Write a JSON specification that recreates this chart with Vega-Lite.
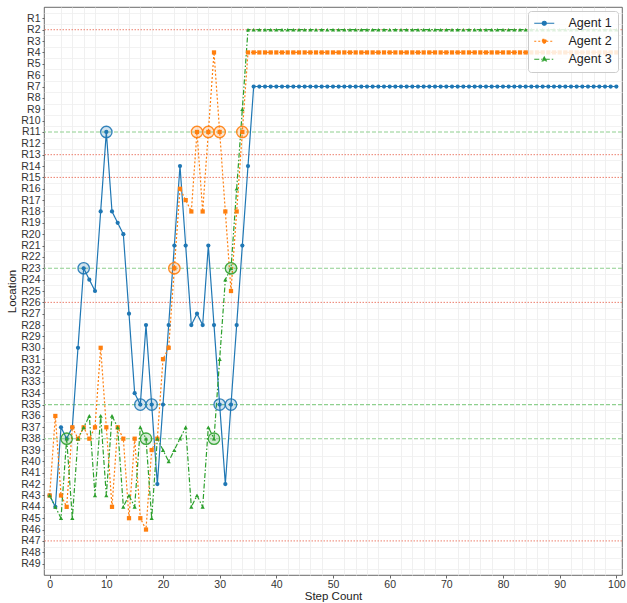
{
"$schema": "https://vega.github.io/schema/vega-lite/v6.json",
"width": 578, "height": 568,
"autosize": {"type": "none"},
"padding": {"left": 44, "top": 7, "right": 5, "bottom": 28},
"background": "white",
"config": {
  "font": "Liberation Sans",
  "view": {"stroke": "#444444", "strokeWidth": 0.8},
  "axis": {"domain": false, "labelColor": "#333333", "titleColor": "#222222", "titleFontWeight": "normal", "titleFontSize": 11.5, "labelFontSize": 10.5, "labelOverlap": false, "labelFlush": false}
},
"resolve": {"axis": {"x": "independent", "y": "independent"}},
"datasets": {
"hlines": [
{"room":2,"kind":"red"},{"room":13,"kind":"red"},{"room":15,"kind":"red"},{"room":26,"kind":"red"},{"room":47,"kind":"red"},
{"room":11,"kind":"green"},{"room":23,"kind":"green"},{"room":35,"kind":"green"},{"room":38,"kind":"green"}
],
"rings": [
{"agent":"Agent 1","step":6,"room":23},{"agent":"Agent 1","step":10,"room":11},{"agent":"Agent 1","step":16,"room":35},{"agent":"Agent 1","step":18,"room":35},{"agent":"Agent 1","step":30,"room":35},{"agent":"Agent 1","step":32,"room":35},
{"agent":"Agent 2","step":22,"room":23},{"agent":"Agent 2","step":26,"room":11},{"agent":"Agent 2","step":28,"room":11},{"agent":"Agent 2","step":30,"room":11},{"agent":"Agent 2","step":34,"room":11},
{"agent":"Agent 3","step":3,"room":38},{"agent":"Agent 3","step":17,"room":38},{"agent":"Agent 3","step":29,"room":38},{"agent":"Agent 3","step":32,"room":23}
],
"paths": [
{"agent":"Agent 1","step":0,"room":43},{"agent":"Agent 1","step":1,"room":44},{"agent":"Agent 1","step":2,"room":37},{"agent":"Agent 1","step":3,"room":38},{"agent":"Agent 1","step":4,"room":37},{"agent":"Agent 1","step":5,"room":30},{"agent":"Agent 1","step":6,"room":23},{"agent":"Agent 1","step":7,"room":24},{"agent":"Agent 1","step":8,"room":25},{"agent":"Agent 1","step":9,"room":18},
{"agent":"Agent 1","step":10,"room":11},{"agent":"Agent 1","step":11,"room":18},{"agent":"Agent 1","step":12,"room":19},{"agent":"Agent 1","step":13,"room":20},{"agent":"Agent 1","step":14,"room":27},{"agent":"Agent 1","step":15,"room":34},{"agent":"Agent 1","step":16,"room":35},{"agent":"Agent 1","step":17,"room":28},{"agent":"Agent 1","step":18,"room":35},{"agent":"Agent 1","step":19,"room":42},
{"agent":"Agent 1","step":20,"room":35},{"agent":"Agent 1","step":21,"room":28},{"agent":"Agent 1","step":22,"room":21},{"agent":"Agent 1","step":23,"room":14},{"agent":"Agent 1","step":24,"room":21},{"agent":"Agent 1","step":25,"room":28},{"agent":"Agent 1","step":26,"room":27},{"agent":"Agent 1","step":27,"room":28},{"agent":"Agent 1","step":28,"room":21},{"agent":"Agent 1","step":29,"room":28},
{"agent":"Agent 1","step":30,"room":35},{"agent":"Agent 1","step":31,"room":42},{"agent":"Agent 1","step":32,"room":35},{"agent":"Agent 1","step":33,"room":28},{"agent":"Agent 1","step":34,"room":21},{"agent":"Agent 1","step":35,"room":14},{"agent":"Agent 1","step":36,"room":7},{"agent":"Agent 1","step":37,"room":7},{"agent":"Agent 1","step":38,"room":7},{"agent":"Agent 1","step":39,"room":7},
{"agent":"Agent 1","step":40,"room":7},{"agent":"Agent 1","step":41,"room":7},{"agent":"Agent 1","step":42,"room":7},{"agent":"Agent 1","step":43,"room":7},{"agent":"Agent 1","step":44,"room":7},{"agent":"Agent 1","step":45,"room":7},{"agent":"Agent 1","step":46,"room":7},{"agent":"Agent 1","step":47,"room":7},{"agent":"Agent 1","step":48,"room":7},{"agent":"Agent 1","step":49,"room":7},
{"agent":"Agent 1","step":50,"room":7},{"agent":"Agent 1","step":51,"room":7},{"agent":"Agent 1","step":52,"room":7},{"agent":"Agent 1","step":53,"room":7},{"agent":"Agent 1","step":54,"room":7},{"agent":"Agent 1","step":55,"room":7},{"agent":"Agent 1","step":56,"room":7},{"agent":"Agent 1","step":57,"room":7},{"agent":"Agent 1","step":58,"room":7},{"agent":"Agent 1","step":59,"room":7},
{"agent":"Agent 1","step":60,"room":7},{"agent":"Agent 1","step":61,"room":7},{"agent":"Agent 1","step":62,"room":7},{"agent":"Agent 1","step":63,"room":7},{"agent":"Agent 1","step":64,"room":7},{"agent":"Agent 1","step":65,"room":7},{"agent":"Agent 1","step":66,"room":7},{"agent":"Agent 1","step":67,"room":7},{"agent":"Agent 1","step":68,"room":7},{"agent":"Agent 1","step":69,"room":7},
{"agent":"Agent 1","step":70,"room":7},{"agent":"Agent 1","step":71,"room":7},{"agent":"Agent 1","step":72,"room":7},{"agent":"Agent 1","step":73,"room":7},{"agent":"Agent 1","step":74,"room":7},{"agent":"Agent 1","step":75,"room":7},{"agent":"Agent 1","step":76,"room":7},{"agent":"Agent 1","step":77,"room":7},{"agent":"Agent 1","step":78,"room":7},{"agent":"Agent 1","step":79,"room":7},
{"agent":"Agent 1","step":80,"room":7},{"agent":"Agent 1","step":81,"room":7},{"agent":"Agent 1","step":82,"room":7},{"agent":"Agent 1","step":83,"room":7},{"agent":"Agent 1","step":84,"room":7},{"agent":"Agent 1","step":85,"room":7},{"agent":"Agent 1","step":86,"room":7},{"agent":"Agent 1","step":87,"room":7},{"agent":"Agent 1","step":88,"room":7},{"agent":"Agent 1","step":89,"room":7},
{"agent":"Agent 1","step":90,"room":7},{"agent":"Agent 1","step":91,"room":7},{"agent":"Agent 1","step":92,"room":7},{"agent":"Agent 1","step":93,"room":7},{"agent":"Agent 1","step":94,"room":7},{"agent":"Agent 1","step":95,"room":7},{"agent":"Agent 1","step":96,"room":7},{"agent":"Agent 1","step":97,"room":7},{"agent":"Agent 1","step":98,"room":7},{"agent":"Agent 1","step":99,"room":7},
{"agent":"Agent 1","step":100,"room":7},
{"agent":"Agent 2","step":0,"room":43},{"agent":"Agent 2","step":1,"room":36},{"agent":"Agent 2","step":2,"room":43},{"agent":"Agent 2","step":3,"room":44},{"agent":"Agent 2","step":4,"room":37},{"agent":"Agent 2","step":5,"room":38},{"agent":"Agent 2","step":6,"room":37},{"agent":"Agent 2","step":7,"room":38},{"agent":"Agent 2","step":8,"room":37},{"agent":"Agent 2","step":9,"room":30},
{"agent":"Agent 2","step":10,"room":37},{"agent":"Agent 2","step":11,"room":44},{"agent":"Agent 2","step":12,"room":37},{"agent":"Agent 2","step":13,"room":38},{"agent":"Agent 2","step":14,"room":45},{"agent":"Agent 2","step":15,"room":38},{"agent":"Agent 2","step":16,"room":45},{"agent":"Agent 2","step":17,"room":46},{"agent":"Agent 2","step":18,"room":39},{"agent":"Agent 2","step":19,"room":38},
{"agent":"Agent 2","step":20,"room":31},{"agent":"Agent 2","step":21,"room":30},{"agent":"Agent 2","step":22,"room":23},{"agent":"Agent 2","step":23,"room":16},{"agent":"Agent 2","step":24,"room":17},{"agent":"Agent 2","step":25,"room":18},{"agent":"Agent 2","step":26,"room":11},{"agent":"Agent 2","step":27,"room":18},{"agent":"Agent 2","step":28,"room":11},{"agent":"Agent 2","step":29,"room":4},
{"agent":"Agent 2","step":30,"room":11},{"agent":"Agent 2","step":31,"room":18},{"agent":"Agent 2","step":32,"room":25},{"agent":"Agent 2","step":33,"room":18},{"agent":"Agent 2","step":34,"room":11},{"agent":"Agent 2","step":35,"room":4},{"agent":"Agent 2","step":36,"room":4},{"agent":"Agent 2","step":37,"room":4},{"agent":"Agent 2","step":38,"room":4},{"agent":"Agent 2","step":39,"room":4},
{"agent":"Agent 2","step":40,"room":4},{"agent":"Agent 2","step":41,"room":4},{"agent":"Agent 2","step":42,"room":4},{"agent":"Agent 2","step":43,"room":4},{"agent":"Agent 2","step":44,"room":4},{"agent":"Agent 2","step":45,"room":4},{"agent":"Agent 2","step":46,"room":4},{"agent":"Agent 2","step":47,"room":4},{"agent":"Agent 2","step":48,"room":4},{"agent":"Agent 2","step":49,"room":4},
{"agent":"Agent 2","step":50,"room":4},{"agent":"Agent 2","step":51,"room":4},{"agent":"Agent 2","step":52,"room":4},{"agent":"Agent 2","step":53,"room":4},{"agent":"Agent 2","step":54,"room":4},{"agent":"Agent 2","step":55,"room":4},{"agent":"Agent 2","step":56,"room":4},{"agent":"Agent 2","step":57,"room":4},{"agent":"Agent 2","step":58,"room":4},{"agent":"Agent 2","step":59,"room":4},
{"agent":"Agent 2","step":60,"room":4},{"agent":"Agent 2","step":61,"room":4},{"agent":"Agent 2","step":62,"room":4},{"agent":"Agent 2","step":63,"room":4},{"agent":"Agent 2","step":64,"room":4},{"agent":"Agent 2","step":65,"room":4},{"agent":"Agent 2","step":66,"room":4},{"agent":"Agent 2","step":67,"room":4},{"agent":"Agent 2","step":68,"room":4},{"agent":"Agent 2","step":69,"room":4},
{"agent":"Agent 2","step":70,"room":4},{"agent":"Agent 2","step":71,"room":4},{"agent":"Agent 2","step":72,"room":4},{"agent":"Agent 2","step":73,"room":4},{"agent":"Agent 2","step":74,"room":4},{"agent":"Agent 2","step":75,"room":4},{"agent":"Agent 2","step":76,"room":4},{"agent":"Agent 2","step":77,"room":4},{"agent":"Agent 2","step":78,"room":4},{"agent":"Agent 2","step":79,"room":4},
{"agent":"Agent 2","step":80,"room":4},{"agent":"Agent 2","step":81,"room":4},{"agent":"Agent 2","step":82,"room":4},{"agent":"Agent 2","step":83,"room":4},{"agent":"Agent 2","step":84,"room":4},{"agent":"Agent 2","step":85,"room":4},{"agent":"Agent 2","step":86,"room":4},{"agent":"Agent 2","step":87,"room":4},{"agent":"Agent 2","step":88,"room":4},{"agent":"Agent 2","step":89,"room":4},
{"agent":"Agent 2","step":90,"room":4},{"agent":"Agent 2","step":91,"room":4},{"agent":"Agent 2","step":92,"room":4},{"agent":"Agent 2","step":93,"room":4},{"agent":"Agent 2","step":94,"room":4},{"agent":"Agent 2","step":95,"room":4},{"agent":"Agent 2","step":96,"room":4},{"agent":"Agent 2","step":97,"room":4},{"agent":"Agent 2","step":98,"room":4},{"agent":"Agent 2","step":99,"room":4},
{"agent":"Agent 2","step":100,"room":4},
{"agent":"Agent 3","step":0,"room":43},{"agent":"Agent 3","step":1,"room":44},{"agent":"Agent 3","step":2,"room":45},{"agent":"Agent 3","step":3,"room":38},{"agent":"Agent 3","step":4,"room":45},{"agent":"Agent 3","step":5,"room":38},{"agent":"Agent 3","step":6,"room":37},{"agent":"Agent 3","step":7,"room":36},{"agent":"Agent 3","step":8,"room":43},{"agent":"Agent 3","step":9,"room":36},
{"agent":"Agent 3","step":10,"room":43},{"agent":"Agent 3","step":11,"room":36},{"agent":"Agent 3","step":12,"room":37},{"agent":"Agent 3","step":13,"room":44},{"agent":"Agent 3","step":14,"room":43},{"agent":"Agent 3","step":15,"room":44},{"agent":"Agent 3","step":16,"room":37},{"agent":"Agent 3","step":17,"room":38},{"agent":"Agent 3","step":18,"room":45},{"agent":"Agent 3","step":19,"room":38},
{"agent":"Agent 3","step":20,"room":39},{"agent":"Agent 3","step":21,"room":40},{"agent":"Agent 3","step":22,"room":39},{"agent":"Agent 3","step":23,"room":38},{"agent":"Agent 3","step":24,"room":37},{"agent":"Agent 3","step":25,"room":44},{"agent":"Agent 3","step":26,"room":43},{"agent":"Agent 3","step":27,"room":44},{"agent":"Agent 3","step":28,"room":37},{"agent":"Agent 3","step":29,"room":38},
{"agent":"Agent 3","step":30,"room":31},{"agent":"Agent 3","step":31,"room":24},{"agent":"Agent 3","step":32,"room":23},{"agent":"Agent 3","step":33,"room":16},{"agent":"Agent 3","step":34,"room":9},{"agent":"Agent 3","step":35,"room":2},{"agent":"Agent 3","step":36,"room":2},{"agent":"Agent 3","step":37,"room":2},{"agent":"Agent 3","step":38,"room":2},{"agent":"Agent 3","step":39,"room":2},
{"agent":"Agent 3","step":40,"room":2},{"agent":"Agent 3","step":41,"room":2},{"agent":"Agent 3","step":42,"room":2},{"agent":"Agent 3","step":43,"room":2},{"agent":"Agent 3","step":44,"room":2},{"agent":"Agent 3","step":45,"room":2},{"agent":"Agent 3","step":46,"room":2},{"agent":"Agent 3","step":47,"room":2},{"agent":"Agent 3","step":48,"room":2},{"agent":"Agent 3","step":49,"room":2},
{"agent":"Agent 3","step":50,"room":2},{"agent":"Agent 3","step":51,"room":2},{"agent":"Agent 3","step":52,"room":2},{"agent":"Agent 3","step":53,"room":2},{"agent":"Agent 3","step":54,"room":2},{"agent":"Agent 3","step":55,"room":2},{"agent":"Agent 3","step":56,"room":2},{"agent":"Agent 3","step":57,"room":2},{"agent":"Agent 3","step":58,"room":2},{"agent":"Agent 3","step":59,"room":2},
{"agent":"Agent 3","step":60,"room":2},{"agent":"Agent 3","step":61,"room":2},{"agent":"Agent 3","step":62,"room":2},{"agent":"Agent 3","step":63,"room":2},{"agent":"Agent 3","step":64,"room":2},{"agent":"Agent 3","step":65,"room":2},{"agent":"Agent 3","step":66,"room":2},{"agent":"Agent 3","step":67,"room":2},{"agent":"Agent 3","step":68,"room":2},{"agent":"Agent 3","step":69,"room":2},
{"agent":"Agent 3","step":70,"room":2},{"agent":"Agent 3","step":71,"room":2},{"agent":"Agent 3","step":72,"room":2},{"agent":"Agent 3","step":73,"room":2},{"agent":"Agent 3","step":74,"room":2},{"agent":"Agent 3","step":75,"room":2},{"agent":"Agent 3","step":76,"room":2},{"agent":"Agent 3","step":77,"room":2},{"agent":"Agent 3","step":78,"room":2},{"agent":"Agent 3","step":79,"room":2},
{"agent":"Agent 3","step":80,"room":2},{"agent":"Agent 3","step":81,"room":2},{"agent":"Agent 3","step":82,"room":2},{"agent":"Agent 3","step":83,"room":2},{"agent":"Agent 3","step":84,"room":2},{"agent":"Agent 3","step":85,"room":2},{"agent":"Agent 3","step":86,"room":2},{"agent":"Agent 3","step":87,"room":2},{"agent":"Agent 3","step":88,"room":2},{"agent":"Agent 3","step":89,"room":2},
{"agent":"Agent 3","step":90,"room":2},{"agent":"Agent 3","step":91,"room":2},{"agent":"Agent 3","step":92,"room":2},{"agent":"Agent 3","step":93,"room":2},{"agent":"Agent 3","step":94,"room":2},{"agent":"Agent 3","step":95,"room":2},{"agent":"Agent 3","step":96,"room":2},{"agent":"Agent 3","step":97,"room":2},{"agent":"Agent 3","step":98,"room":2},{"agent":"Agent 3","step":99,"room":2},
{"agent":"Agent 3","step":100,"room":2}
]
},
"layer": [
{
  "data": {"name": "rings"},
  "mark": {"type": "point", "opacity": 0},
  "encoding": {
    "x": {"field": "step", "type": "quantitative",
      "scale": {"domain": [-1, 101], "nice": false, "zero": false},
      "axis": {"orient": "bottom", "title": null, "labels": false, "ticks": false, "domain": false,
        "values": [2,4,6,8,12,14,16,18,22,24,26,28,32,34,36,38,42,44,46,48,52,54,56,58,62,64,66,68,72,74,76,78,82,84,86,88,92,94,96,98],
        "gridColor": "#ececec", "gridWidth": 0.8}},
    "y": {"field": "room", "type": "quantitative",
      "scale": {"domain": [0, 50], "reverse": true, "nice": false, "zero": false},
      "axis": {"orient": "left", "title": null, "labels": false, "ticks": false, "domain": false,
        "values": [0.5,1.5,2.5,3.5,4.5,5.5,6.5,7.5,8.5,9.5,10.5,11.5,12.5,13.5,14.5,15.5,16.5,17.5,18.5,19.5,20.5,21.5,22.5,23.5,24.5,25.5,26.5,27.5,28.5,29.5,30.5,31.5,32.5,33.5,34.5,35.5,36.5,37.5,38.5,39.5,40.5,41.5,42.5,43.5,44.5,45.5,46.5,47.5,48.5,49.5],
        "gridColor": "#efefef", "gridWidth": 0.8}}
  }
},
{
  "data": {"name": "hlines"},
  "transform": [{"filter": "datum.kind === 'red'"}],
  "mark": {"type": "rule", "color": "#ec7f6d", "strokeDash": [1.5, 1.5], "strokeWidth": 1},
  "encoding": {"y": {"field": "room", "type": "quantitative", "axis": null}}
},
{
  "data": {"name": "hlines"},
  "transform": [{"filter": "datum.kind === 'green'"}],
  "mark": {"type": "rule", "color": "#8fd08f", "strokeDash": [4, 2], "strokeWidth": 1.1},
  "encoding": {"y": {"field": "room", "type": "quantitative", "axis": null}}
},
{
  "data": {"name": "paths"},
  "mark": {"type": "line", "strokeWidth": 1.2},
  "encoding": {
    "x": {"field": "step", "type": "quantitative",
      "axis": {"orient": "bottom", "title": "Step Count", "titlePadding": 1, "labelOverlap": false,
        "values": [0,10,20,30,40,50,60,70,80,90,100],
        "gridColor": "#dadada", "gridWidth": 0.8, "tickColor": "#666666",
        "tickSize": 3, "labelPadding": 1}},
    "y": {"field": "room", "type": "quantitative",
      "axis": {"orient": "left", "title": "Location", "titlePadding": 3, "labelOverlap": false,
        "values": [1,2,3,4,5,6,7,8,9,10,11,12,13,14,15,16,17,18,19,20,21,22,23,24,25,26,27,28,29,30,31,32,33,34,35,36,37,38,39,40,41,42,43,44,45,46,47,48,49],
        "labelExpr": "'R' + datum.value",
        "gridColor": "#e0e0e0", "gridWidth": 0.8, "tickColor": "#666666",
        "tickSize": 2, "labelPadding": 2}},
    "color": {"field": "agent", "type": "nominal",
      "scale": {"domain": ["Agent 1", "Agent 2", "Agent 3"], "range": ["#1f77b4", "#ff7f0e", "#2ca02c"]},
      "legend": {"title": null, "orient": "top-right", "offset": 4,
        "fillColor": "rgba(255,255,255,0.85)", "strokeColor": "#cccccc", "cornerRadius": 3, "padding": 6,
        "labelFontSize": 12.5, "labelColor": "#222222", "symbolSize": 100, "symbolOffset": 4, "labelOffset": 18,
        "rowPadding": 5, "symbolStrokeWidth": 1.2,
        "encode": {"symbols": {"update": {
          "shape": {"signal": "datum.value === 'Agent 1' ? 'M-2,0L2,0M-0.4,0A0.4,0.4 0 1 0 0.4,0A0.4,0.4 0 1 0 -0.4,0Z' : datum.value === 'Agent 2' ? 'M-2,0L2,0M-0.36,-0.36L0.36,-0.36L0.36,0.36L-0.36,0.36Z' : 'M-2,0L2,0M0,-0.45L0.4,0.32L-0.4,0.32Z'"},
          "fill": {"signal": "datum.value === 'Agent 1' ? '#1f77b4' : datum.value === 'Agent 2' ? '#ff7f0e' : '#2ca02c'"},
          "stroke": {"signal": "datum.value === 'Agent 1' ? '#1f77b4' : datum.value === 'Agent 2' ? '#ff7f0e' : '#2ca02c'"},
          "strokeDash": {"signal": "datum.value === 'Agent 2' ? [2, 2] : datum.value === 'Agent 3' ? [5, 2, 1.5, 2] : [1, 0]"}
        }}}}},
    "strokeDash": {"field": "agent", "type": "nominal",
      "scale": {"domain": ["Agent 1", "Agent 2", "Agent 3"], "range": [[1, 0], [2, 2], [5, 2, 1.5, 2]]},
      "legend": null}
  }
},
{
  "data": {"name": "paths"},
  "transform": [{"filter": "datum.agent === 'Agent 1'"}],
  "mark": {"type": "point", "filled": true, "opacity": 1, "size": 18, "shape": "circle"},
  "encoding": {
    "x": {"field": "step", "type": "quantitative", "axis": null},
    "y": {"field": "room", "type": "quantitative", "axis": null},
    "color": {"field": "agent", "type": "nominal", "legend": null}
  }
},
{
  "data": {"name": "paths"},
  "transform": [{"filter": "datum.agent === 'Agent 2'"}],
  "mark": {"type": "point", "filled": true, "opacity": 1, "size": 18, "shape": "square"},
  "encoding": {
    "x": {"field": "step", "type": "quantitative", "axis": null},
    "y": {"field": "room", "type": "quantitative", "axis": null},
    "color": {"field": "agent", "type": "nominal", "legend": null}
  }
},
{
  "data": {"name": "paths"},
  "transform": [{"filter": "datum.agent === 'Agent 3'"}],
  "mark": {"type": "point", "filled": true, "opacity": 1, "size": 18, "shape": "triangle-up"},
  "encoding": {
    "x": {"field": "step", "type": "quantitative", "axis": null},
    "y": {"field": "room", "type": "quantitative", "axis": null},
    "color": {"field": "agent", "type": "nominal", "legend": null}
  }
},
{
  "data": {"name": "rings"},
  "mark": {"type": "point", "shape": "circle", "size": 130, "strokeWidth": 1.3, "fillOpacity": 0.2, "strokeOpacity": 0.9},
  "encoding": {
    "x": {"field": "step", "type": "quantitative", "axis": null},
    "y": {"field": "room", "type": "quantitative", "axis": null},
    "stroke": {"field": "agent", "type": "nominal",
      "scale": {"domain": ["Agent 1", "Agent 2", "Agent 3"], "range": ["#1f77b4", "#ff7f0e", "#2ca02c"]}, "legend": null},
    "fill": {"field": "agent", "type": "nominal",
      "scale": {"domain": ["Agent 1", "Agent 2", "Agent 3"], "range": ["#1f77b4", "#ff7f0e", "#2ca02c"]}, "legend": null}
  }
}
]
}
